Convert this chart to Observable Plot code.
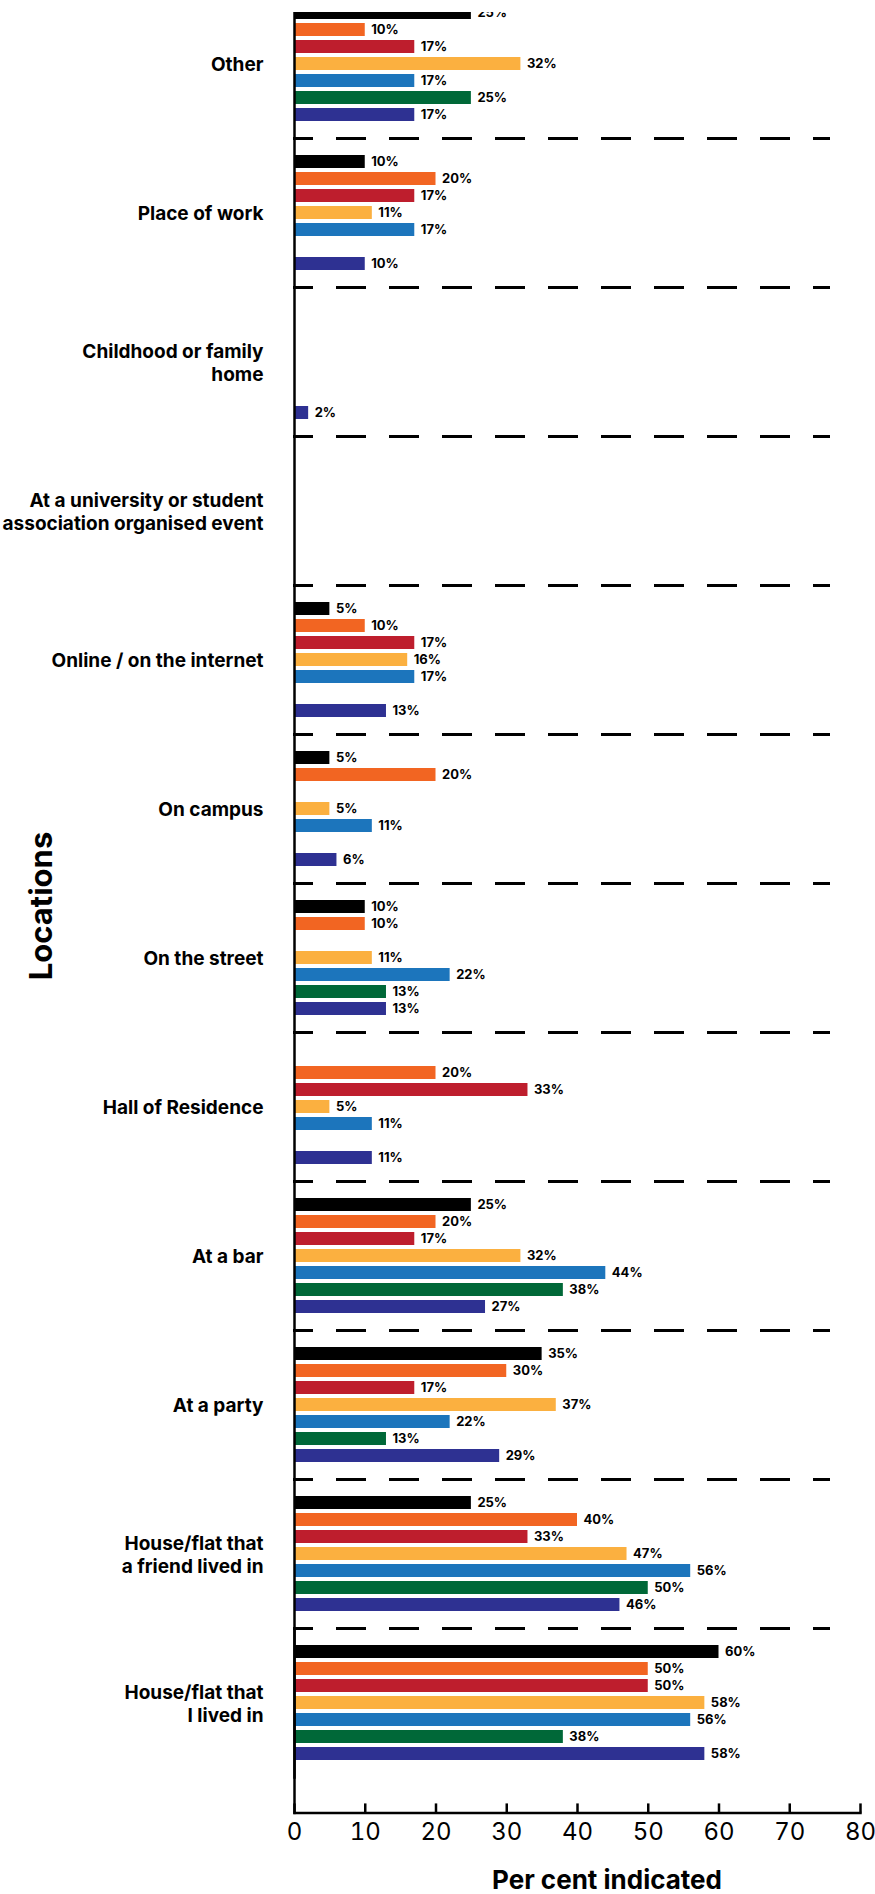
<!DOCTYPE html>
<html>
<head>
<meta charset="utf-8">
<script src="https://cdn.jsdelivr.net/npm/d3@7"></script>
<script src="https://cdn.jsdelivr.net/npm/@observablehq/plot@0.6"></script>
<style>
  html, body { margin: 0; padding: 0; background: #fff; }
  body { font-family: Inter, "Noto Sans", sans-serif; color: #000; width: 875px; }
  #clip { margin-top: 12px; overflow: hidden; width: 875px; }
  #clip svg { display: block; margin-top: -23px; }
  #ylabel { position: absolute; left: 40px; top: 906px; transform: translate(-50%, -50%) rotate(-90deg);
            font-weight: 700; font-size: 31px; white-space: nowrap; line-height: 1; }
  #xlabel { position: absolute; left: 607px; top: 1866px; transform: translateX(-50%);
            font-weight: 700; font-size: 26px; white-space: nowrap; line-height: 1.1; }
</style>
</head>
<body>
<div id="clip"></div>
<div id="ylabel">Locations</div>
<div id="xlabel">Per cent indicated</div>
<script>
// Categories, top to bottom
const locations = [
  "Other",
  "Place of work",
  "Childhood or family home",
  "At a university or student association organised event",
  "Online / on the internet",
  "On campus",
  "On the street",
  "Hall of Residence",
  "At a bar",
  "At a party",
  "House/flat that a friend lived in",
  "House/flat that I lived in"
];
// Tick labels for the categories (with line breaks)
const locationLabels = [
  "Other",
  "Place of work",
  "Childhood or family\nhome",
  "At a university or student\nassociation organised event",
  "Online / on the internet",
  "On campus",
  "On the street",
  "Hall of Residence",
  "At a bar",
  "At a party",
  "House/flat that\na friend lived in",
  "House/flat that\nI lived in"
];
const series = ["Group 1", "Group 2", "Group 3", "Group 4", "Group 5", "Group 6", "Group 7"];
const seriesColors = ["#000000", "#f26522", "#be1e2d", "#fbb040", "#1c75bc", "#006838", "#2e3192"];

// Values per series, in the order of `locations` (0 = no bar)
const group1 = [25, 10, 0, 0, 5, 5, 10, 0, 25, 35, 25, 60];
const group2 = [10, 20, 0, 0, 10, 20, 10, 20, 20, 30, 40, 50];
const group3 = [17, 17, 0, 0, 17, 0, 0, 33, 17, 17, 33, 50];
const group4 = [32, 11, 0, 0, 16, 5, 11, 5, 32, 37, 47, 58];
const group5 = [17, 17, 0, 0, 17, 11, 22, 11, 44, 22, 56, 56];
const group6 = [25, 0, 0, 0, 0, 0, 13, 0, 38, 13, 50, 38];
const group7 = [17, 10, 2, 0, 13, 6, 13, 11, 27, 29, 46, 58];
const seriesValues = [group1, group2, group3, group4, group5, group6, group7];

const xTicks = [0, 10, 20, 30, 40, 50, 60, 70, 80];

const rows = [];
locations.forEach((loc, i) => {
  series.forEach((s, j) => rows.push({location: loc, series: s, value: seriesValues[j][i]}));
});
const labelOf = new Map(locations.map((d, i) => [d, locationLabels[i]]));

// layout
const W = 875, H = 1872, MT = 0, MB = 45;
const fyPadOuter = 0.1186;
const plotH = H - MT - MB;
const fyStep = plotH / (locations.length + 2 * fyPadOuter);
const gap = 2 * fyPadOuter * fyStep; // space between last group and the x axis

const chart = Plot.plot({
  width: W,
  height: H,
  marginTop: MT,
  marginBottom: MB,
  marginLeft: 294,
  marginRight: 15,
  style: {fontFamily: "Inter, 'Noto Sans', sans-serif", color: "#000", background: "#fff", overflow: "visible"},
  x: {domain: [0, 80]},
  y: {domain: series, paddingInner: 0.23, paddingOuter: 0.88, axis: null},
  fy: {domain: locations, paddingInner: 0, paddingOuter: fyPadOuter, align: 0},
  color: {domain: series, range: seriesColors},
  marks: [
    // dashed separators between groups (top edge of each group)
    Plot.frame({anchor: "top", stroke: "#000", strokeWidth: 3, strokeDasharray: "27,26", strokeDashoffset: 10, insetRight: 32}),
    Plot.barX(rows, {filter: d => d.value > 0, x: "value", y: "series", fy: "location", fill: "series"}),
    Plot.text(rows, {filter: d => d.value > 0, x: "value", y: "series", fy: "location",
      text: d => `${d.value}%`, textAnchor: "start", dx: 6, fontSize: 13, fontWeight: 700, fill: "#000"}),
    // vertical axis line
    Plot.frame({anchor: "left", stroke: "#000", strokeWidth: 2.5}),
    Plot.frame({anchor: "left", stroke: "#000", strokeWidth: 2.5, facetAnchor: "bottom", insetBottom: -gap}),
    // horizontal axis line
    Plot.frame({anchor: "bottom", stroke: "#000", strokeWidth: 2.5, facetAnchor: "bottom", insetBottom: -gap}),
    Plot.axisX({ticks: xTicks, tickSize: 9, dy: gap - 9, tickFormat: () => "", strokeWidth: 2.5, label: null}),
    Plot.axisX({ticks: xTicks, tickSize: 0, tickPadding: 10, dy: gap, fontSize: 24, label: null}),
    Plot.axisFy({anchor: "left", tickSize: 0, tickPadding: 31, fontSize: 19, fontWeight: 700,
      label: null, tickFormat: d => labelOf.get(d), lineHeight: 1.2})
  ]
});
document.getElementById("clip").appendChild(chart);
</script>
</body>
</html>
